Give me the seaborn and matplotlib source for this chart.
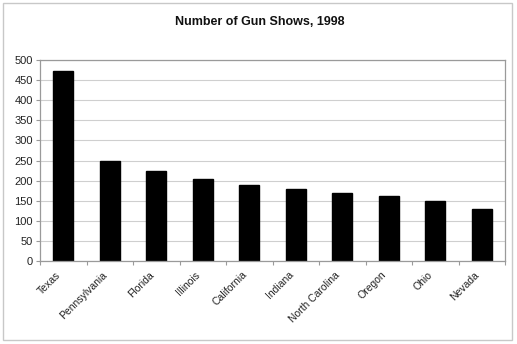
import matplotlib
matplotlib.use("Agg")
import matplotlib.pyplot as plt
import matplotlib.transforms as mtransforms
import seaborn as sns
import pandas as pd
import numpy as np
from matplotlib.patches import Rectangle
from matplotlib.ticker import FixedLocator

states = ["Texas", "Pennsylvania", "Florida", "Illinois", "California",
          "Indiana", "North Carolina", "Oregon", "Ohio", "Nevada"]
shows = [473, 250, 225, 203, 188, 180, 169, 161, 149, 129]
y_ticks = [0, 50, 100, 150, 200, 250, 300, 350, 400, 450, 500]

df = pd.DataFrame({"state": states, "shows": shows})

sns.set_theme(style="white")
plt.rcParams["font.family"] = ["Liberation Sans", "DejaVu Sans"]

fig = plt.figure(figsize=(5.17, 3.44), dpi=100)
ax = fig.add_axes([0.0774, 0.241, 0.8996, 0.5846])

sns.barplot(data=df, x="state", y="shows", color="black", edgecolor="black",
            width=0.43, saturation=1, ax=ax)

ax.set_ylim(0, 500)
ax.set_xlim(-0.5, len(states) - 0.5)
ax.set_yticks(y_ticks)
ax.yaxis.grid(True, color="#cfcfcf", linewidth=0.8)
ax.set_axisbelow(True)
ax.set_xlabel("")
ax.set_ylabel("")

for side in ["left", "right", "top", "bottom"]:
    ax.spines[side].set_visible(True)
    ax.spines[side].set_color("#9a9a9a")
    ax.spines[side].set_linewidth(0.9)

ax.tick_params(axis="y", labelsize=8, colors="#9a9a9a", length=3,
               width=0.8, direction="out", left=True, pad=2)
ax.tick_params(axis="y", labelcolor="#222222")
ax.tick_params(axis="x", which="major", length=0, labelsize=7.5,
               labelcolor="#222222", pad=3)
ax.xaxis.set_minor_locator(FixedLocator(np.arange(-0.5, len(states), 1.0)))
ax.tick_params(axis="x", which="minor", length=3, width=0.8,
               color="#9a9a9a", bottom=True, direction="out")

# Slanted category labels, nudged down-left so they hang below each bar
shift = mtransforms.ScaledTranslation(-0.04, -0.08, fig.dpi_scale_trans)
for lbl in ax.get_xticklabels():
    lbl.set_rotation(45)
    lbl.set_ha("right")
    lbl.set_va("center")
    lbl.set_rotation_mode("anchor")
    lbl.set_transform(lbl.get_transform() + shift)

fig.text(0.503, 0.935, "Number of Gun Shows, 1998", ha="center",
         va="center", fontsize=9, fontweight="bold", color="#111111")

fig.patches.append(Rectangle((0.006, 0.012), 0.984, 0.978,
                             transform=fig.transFigure, fill=False,
                             edgecolor="#c8c8c8", linewidth=1.0))

fig.savefig("out.png", dpi=100)
